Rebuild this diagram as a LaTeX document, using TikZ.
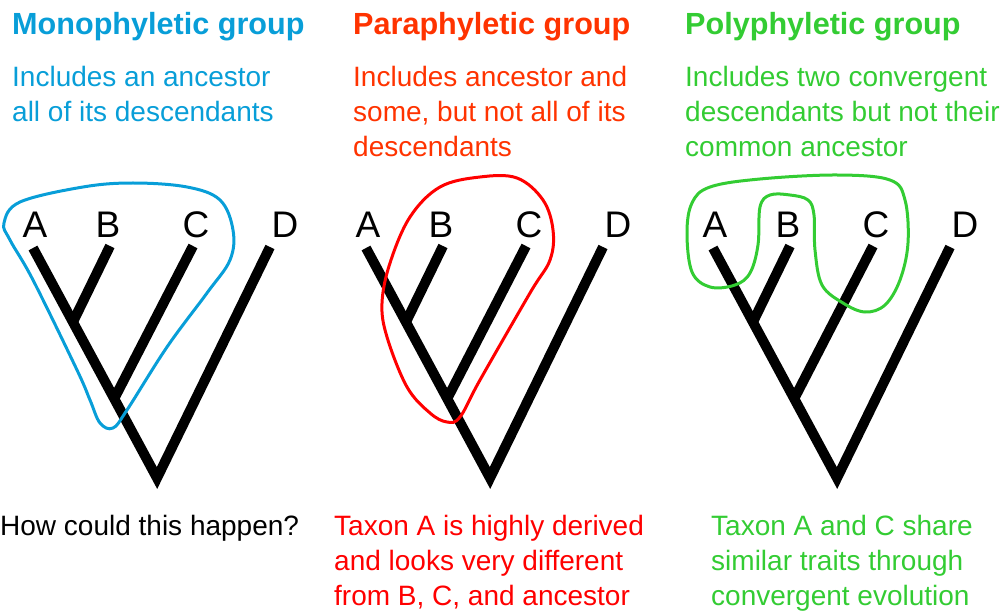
\documentclass[tikz,border=0pt]{standalone}
\usepackage{fontspec}
\setmainfont{Liberation Sans}
\usetikzlibrary{positioning, calc}
\definecolor{monoblue}{RGB}{8,158,216}
\definecolor{paraorange}{RGB}{255,51,0}
\definecolor{parared}{RGB}{255,0,0}
\definecolor{polygreen}{RGB}{51,204,51}

\begin{document}
\begin{tikzpicture}[x=1pt, y=-1pt,
  grouptitle/.style={anchor=base west, inner sep=0pt, font=\fontsize{30.6}{35}\selectfont\bfseries},
  grouptext/.style={anchor=base west, inner sep=0pt, align=left, font=\fontsize{28}{35}\selectfont},
  taxon/.style={anchor=base, inner sep=0pt, font=\fontsize{37}{40}\selectfont},
  branch/.style={line width=10pt},
  grouploop/.style={line width=3pt}]
\useasboundingbox (0,0) rectangle (1003,612);

% titles
\node[grouptitle, monoblue] (monotitle) at (12,35) {Monophyletic group};
\node[grouptitle, paraorange] (paratitle) at (353,35) {Paraphyletic group};
\node[grouptitle, polygreen] (polytitle) at (685,35) {Polyphyletic group};

% definitions (base = last line)
\node[grouptext, monoblue] (monodef) at (12,122) {Includes an ancestor\\all of its descendants};
\node[grouptext, paraorange] (paradef) at (353,157) {Includes ancestor and\\some, but not all of its\\descendants};
\node[grouptext, polygreen] (polydef) at (685,157) {Includes two convergent\\descendants but not their\\common ancestor};

% trees
\foreach \dx/\t in {0/mono, 333/para, 680/poly} {
  \begin{scope}[xshift=\dx pt]
    \coordinate (\t-A) at (33,248);
    \coordinate (\t-B) at (110,246);
    \coordinate (\t-C) at (193,246);
    \coordinate (\t-D) at (270,247);
    \coordinate (\t-root) at (157,478);
    \coordinate (\t-AB) at ($(\t-A)!0.322!(\t-root)$);
    \coordinate (\t-ABC) at ($(\t-A)!0.655!(\t-root)$);
    \draw[branch] (\t-A) -- (\t-root) -- (\t-D);
    \draw[branch] (\t-B) -- (\t-AB);
    \draw[branch] (\t-C) -- (\t-ABC);
    \node[taxon] (\t-labA) at (35,237) {A};
    \node[taxon] (\t-labB) at (108,237) {B};
    \node[taxon] (\t-labC) at (196,237) {C};
    \node[taxon] (\t-labD) at (285,237) {D};
  \end{scope}
}

% group outlines
\draw[grouploop, monoblue] plot[smooth cycle, tension=0.6] coordinates {
  (4,223) (20,202) (83,187) (133,183) (187,187) (220,200) (233,230) (230,260)
  (207,293) (167,347) (127,410) (113,428) (100,423) (90,400) (77,370) (33,280) (10,240)};
\draw[grouploop, parared] plot[smooth cycle, tension=0.6] coordinates {
  (480,177) (517,178) (543,200) (553,230) (550,260) (530,293) (480,380) (460,417)
  (447,422) (430,413) (407,387) (387,337) (382,303) (390,263) (410,217) (440,187)};
\draw[grouploop, polygreen] plot[smooth cycle, tension=0.6] coordinates {
  (687,233) (692,203) (710,187) (760,179) (837,175) (890,180) (905,200) (908,243)
  (900,280) (885,305) (865,312) (843,303) (822,285) (815,250) (814,215) (808,200)
  (790,195) (770,195) (760,207) (758,245) (750,273) (735,285) (710,287) (692,272)};

% notes (base = last line)
\node[grouptext] (mononote) at (0,535) {How could this happen?};
\node[grouptext, parared] (paranote) at (334,605) {Taxon A is highly derived\\and looks very different\\from B, C, and ancestor};
\node[grouptext, polygreen] (polynote) at (711,605) {Taxon A and C share\\similar traits through\\convergent evolution};
\end{tikzpicture}
\end{document}
